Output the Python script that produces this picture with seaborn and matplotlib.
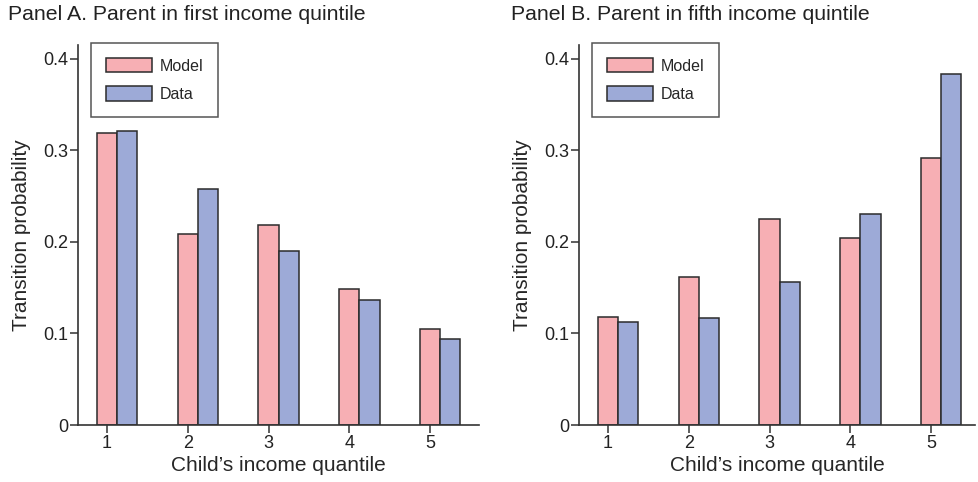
import matplotlib
matplotlib.use("Agg")
import matplotlib.pyplot as plt
import seaborn as sns
import pandas as pd

# Child's income quintile categories
quintiles = ["1", "2", "3", "4", "5"]

# Panel A: parent in first income quintile
model_a = [0.319, 0.209, 0.218, 0.148, 0.105]
data_a = [0.321, 0.258, 0.190, 0.136, 0.094]

# Panel B: parent in fifth income quintile
model_b = [0.118, 0.162, 0.225, 0.204, 0.292]
data_b = [0.113, 0.117, 0.156, 0.230, 0.383]

series_names = ["Model", "Data"]
colors = {"Model": "#F7AFB4", "Data": "#9DAAD7"}
panel_titles = ["Panel A. Parent in first income quintile",
                "Panel B. Parent in fifth income quintile"]
y_ticks = [0, 0.1, 0.2, 0.3, 0.4]
y_ticklabels = ["0", "0.1", "0.2", "0.3", "0.4"]

sns.set_theme(style="ticks")
plt.rcParams["font.family"] = ["Liberation Sans", "DejaVu Sans"]

EDGE = "#2b2b2b"


def long_table(model, data):
    return pd.DataFrame({
        "quintile": quintiles * 2,
        "series": ["Model"] * len(quintiles) + ["Data"] * len(quintiles),
        "prob": list(model) + list(data),
    })


fig = plt.figure(figsize=(9.79, 4.82), dpi=100)
axes = [fig.add_axes([0.0797, 0.118, 0.4096, 0.789]),
        fig.add_axes([0.5914, 0.118, 0.4046, 0.789])]
xlims = [(-0.484, 4.482), (-0.484, 4.42)]
title_x = [8 / 979, 511 / 979]

for ax, (m, d), xl, tx, title in zip(axes, [(model_a, data_a), (model_b, data_b)],
                                    xlims, title_x, panel_titles):
    df = long_table(m, d)
    sns.barplot(data=df, x="quintile", y="prob", hue="series",
                hue_order=series_names, palette=colors, order=quintiles,
                width=0.5, edgecolor=EDGE, linewidth=1.1, saturation=1,
                ax=ax)
    # ticks sit under the Model bars
    model_bars = ax.containers[0]
    centers = [p.get_x() + p.get_width() / 2 for p in model_bars]
    ax.set_xticks(centers)
    ax.set_xticklabels(quintiles, fontsize=13)
    ax.set_xlim(*xl)
    ax.set_ylim(0, 0.415)
    ax.set_yticks(y_ticks)
    ax.set_yticklabels(y_ticklabels, fontsize=13)
    ax.set_xlabel("Child\u2019s income quantile", fontsize=15, labelpad=3)
    ax.set_ylabel("Transition probability", fontsize=15, labelpad=9)
    for s in ["top", "right"]:
        ax.spines[s].set_visible(False)
    for s in ["left", "bottom"]:
        ax.spines[s].set_linewidth(1.2)
        ax.spines[s].set_color("#333333")
    ax.tick_params(axis="both", length=5.5, width=1.1, color="#333333",
                   colors="#222222", pad=1.5)
    leg = ax.legend(loc="upper left", bbox_to_anchor=(0.032, 1.005),
                    borderaxespad=0, frameon=True, fancybox=False,
                    fontsize=11.5, handlelength=2.9, handleheight=1.0,
                    handletextpad=0.45, borderpad=0.95, labelspacing=0.8)
    leg.get_frame().set_edgecolor(EDGE)
    leg.get_frame().set_linewidth(1.1)
    fig.text(tx, 1 - 5 / 482, title, fontsize=15.3, ha="left", va="top",
             color="#222222")

fig.savefig("out.png", dpi=100)
